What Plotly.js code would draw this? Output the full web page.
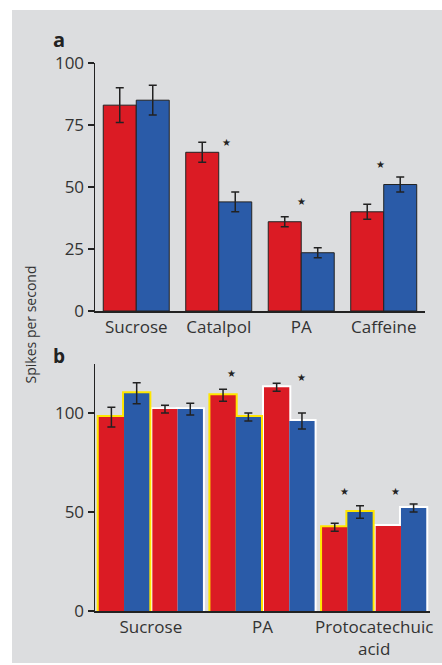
<!DOCTYPE html>
<html><head><meta charset="utf-8">
<script src="https://cdn.plot.ly/plotly-3.0.1.min.js"></script>
<style>
html,body{margin:0;padding:0;background:#fff;}
#chart{position:absolute;left:12px;top:10px;width:430px;height:653px;}
</style></head>
<body><div id="chart"></div>
<script>
// ---- Panel a data ----
const catsA = ['Sucrose', 'Catalpol', 'PA', 'Caffeine'];
const redA = [83, 64, 36, 40];
const redErrA = [7, 4, 2, 3];
const blueA = [85, 44, 23.5, 51];
const blueErrA = [6, 4, 2, 3];
const starA = [null, 68, 44, 59];
const starAShift = [0, 0.1, 0, -0.04];

// ---- Panel b data (pairs, two per group) ----
const groupsB = ['Sucrose', 'PA', 'Protocatechuic<br>acid'];
const redB = [98, 102, 109, 113, 42.3, 43];
const redErrB = [5, 2, 3, 2, 2, null];
const blueB = [110, 102, 98, 96, 50, 52];
const blueErrB = [5.3, 3, 2, 4, 3.2, 2];
const starB = [null, null, 120, 118, 60.6, 60.6];
const starBShift = [0, 0, -0.04, 0.11, -0.03, -0.05];

const RED = '#db1b24', BLUE = '#2a5ba8', DARK = '#222222', BG = '#dcdddf';
const outlineCol = ['#ffe600', '#ffffff', '#ffe600', '#ffffff', '#ffe600', '#ffffff'];

const bwA = 0.4;
const bwB = 0.2265, pairOff = 0.24, od = 0.018, oe = 1.0;
const pairX = redB.map((_, i) => Math.floor(i / 2) + (i % 2 ? pairOff : -pairOff));

const errStyle = (arr, w) => ({type: 'data', array: arr.map(v => v == null ? NaN : v), visible: true,
  color: DARK, thickness: 1.5, width: w});

const traces = [
  {type: 'bar', x: catsA, y: redA, xaxis: 'x', yaxis: 'y', offset: -bwA, width: bwA,
   marker: {color: RED, line: {color: DARK, width: 1}}, error_y: errStyle(redErrA, 4), hoverinfo: 'y'},
  {type: 'bar', x: catsA, y: blueA, xaxis: 'x', yaxis: 'y', offset: 0, width: bwA,
   marker: {color: BLUE, line: {color: DARK, width: 1}}, error_y: errStyle(blueErrA, 4), hoverinfo: 'y'},
  // panel b outlines (drawn first, behind)
  {type: 'bar', x: pairX, y: redB.map(v => v + oe), xaxis: 'x2', yaxis: 'y2', offset: -bwB - od, width: bwB + 2 * od,
   marker: {color: outlineCol, line: {width: 0}}, hoverinfo: 'skip'},
  {type: 'bar', x: pairX, y: blueB.map(v => v + oe), xaxis: 'x2', yaxis: 'y2', offset: -od, width: bwB + 2 * od,
   marker: {color: outlineCol, line: {width: 0}}, hoverinfo: 'skip'},
  {type: 'bar', x: pairX, y: redB, xaxis: 'x2', yaxis: 'y2', offset: -bwB, width: bwB,
   marker: {color: RED, line: {width: 0}}, error_y: errStyle(redErrB, 4), hoverinfo: 'y'},
  {type: 'bar', x: pairX, y: blueB, xaxis: 'x2', yaxis: 'y2', offset: 0, width: bwB,
   marker: {color: BLUE, line: {width: 0}}, error_y: errStyle(blueErrB, 4), hoverinfo: 'y'}
];

const annotations = [];
starA.forEach((v, i) => {
  if (v == null) return;
  annotations.push({xref: 'x', yref: 'y', x: i + starAShift[i], y: v, text: '★', showarrow: false,
    xanchor: 'center', yanchor: 'middle', font: {size: 10, color: DARK, family: 'DejaVu Sans'}});
});
starB.forEach((v, i) => {
  if (v == null) return;
  annotations.push({xref: 'x2', yref: 'y2', x: pairX[i] + starBShift[i], y: v, text: '★', showarrow: false,
    xanchor: 'center', yanchor: 'middle', font: {size: 10, color: DARK, family: 'DejaVu Sans'}});
});
annotations.push({xref: 'paper', yref: 'paper', x: -0.194, y: 0.523, text: 'Spikes per second', textangle: -90,
  xanchor: 'center', yanchor: 'middle', showarrow: false, font: {size: 14, color: '#333', family: 'Open Sans'}});
annotations.push({xref: 'paper', yref: 'paper', x: -0.107, y: 1.042, text: '<b>a</b>', showarrow: false,
  xanchor: 'center', yanchor: 'middle', font: {size: 20, color: '#222', family: 'Open Sans'}});
annotations.push({xref: 'paper', yref: 'paper', x: -0.107, y: 0.465, text: '<b>b</b>', showarrow: false,
  xanchor: 'center', yanchor: 'middle', font: {size: 19, color: '#222', family: 'Open Sans'}});

const tickFont = {family: 'Open Sans', size: 17, color: '#333'};
const layout = {
  width: 430, height: 653,
  margin: {l: 83, r: 12, t: 53, b: 52},
  paper_bgcolor: BG, plot_bgcolor: BG,
  barmode: 'overlay', showlegend: false,
  font: {family: 'Open Sans', color: '#333'},
  xaxis: {domain: [0, 0.985], anchor: 'y', type: 'category', range: [-0.5, 3.5], showline: true, linecolor: DARK,
    linewidth: 1.5, ticks: '', showgrid: false, zeroline: false, tickfont: tickFont, fixedrange: true},
  yaxis: {domain: [0.5474, 1], anchor: 'x', range: [0, 100], tickvals: [0, 25, 50, 75, 100], showline: true,
    linecolor: DARK, linewidth: 1.5, ticks: 'outside', ticklen: 6, tickwidth: 1.5, tickcolor: DARK,
    showgrid: false, zeroline: false, tickfont: tickFont, fixedrange: true},
  xaxis2: {domain: [0, 1], anchor: 'y2', range: [-0.5, 2.5], tickvals: [0, 1, 2], ticktext: groupsB, showline: true,
    linecolor: DARK, linewidth: 1.5, ticks: '', showgrid: false, zeroline: false, tickfont: tickFont, fixedrange: true},
  yaxis2: {domain: [0, 0.4515], anchor: 'x2', range: [0, 125], tickvals: [0, 50, 100], showline: true,
    linecolor: DARK, linewidth: 1.5, ticks: 'outside', ticklen: 6, tickwidth: 1.5, tickcolor: DARK,
    showgrid: false, zeroline: false, tickfont: tickFont, fixedrange: true},
  annotations: annotations
};
Plotly.newPlot('chart', traces, layout, {displayModeBar: false, staticPlot: true});
</script></body></html>
